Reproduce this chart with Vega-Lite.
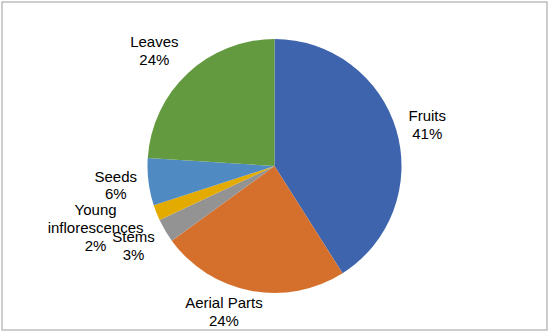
{
  "$schema": "https://vega.github.io/schema/vega-lite/v6.json",
  "width": 550,
  "height": 332,
  "autosize": {"type": "fit", "contains": "padding"},
  "padding": {"left": 2, "top": 2, "right": 3, "bottom": 2},
  "background": "white",
  "view": {"stroke": "#BDBDBD", "strokeWidth": 1.5},
  "data": {
    "values": [
      {"rank": 1, "part": "Fruits", "value": 41},
      {"rank": 2, "part": "Aerial Parts", "value": 24},
      {"rank": 3, "part": "Stems", "value": 3},
      {"rank": 4, "part": "Young inflorescences", "value": 2},
      {"rank": 5, "part": "Seeds", "value": 6},
      {"rank": 6, "part": "Leaves", "value": 24}
    ]
  },
  "transform": [
    {"stack": "value", "groupby": [], "sort": [{"field": "rank", "order": "ascending"}], "as": ["v0", "v1"]},
    {"calculate": "(datum.v0 + datum.v1) / 2", "as": "vmid"},
    {"calculate": "replace(datum.part, 'Young ', 'Young\\n') + '\\n' + datum.value + '%'", "as": "label"}
  ],
  "layer": [
    {
      "mark": {"type": "arc", "outerRadius": 127},
      "encoding": {
        "theta": {"field": "v0", "type": "quantitative", "scale": {"domain": [0, 100]}, "stack": null},
        "theta2": {"field": "v1"},
        "color": {
          "field": "part",
          "type": "nominal",
          "scale": {
            "domain": ["Fruits", "Aerial Parts", "Stems", "Young inflorescences", "Seeds", "Leaves"],
            "range": ["#3D64AC", "#D5702C", "#939393", "#E3AB00", "#4F8AC3", "#63993F"]
          },
          "legend": null
        }
      }
    },
    {
      "transform": [{"filter": "datum.part == 'Fruits'"}],
      "mark": {"type": "text", "radius": 158, "dx": 1, "dy": -6, "font": "Liberation Sans", "fontSize": 15, "lineHeight": 17.7, "lineBreak": "\n", "color": "black"},
      "encoding": {"theta": {"field": "vmid", "type": "quantitative", "scale": {"domain": [0, 100]}, "stack": null}, "text": {"field": "label"}}
    },
    {
      "transform": [{"filter": "datum.part == 'Aerial Parts'"}],
      "mark": {"type": "text", "radius": 158, "dx": -21, "dy": -18, "font": "Liberation Sans", "fontSize": 15, "lineHeight": 17.7, "lineBreak": "\n", "color": "black"},
      "encoding": {"theta": {"field": "vmid", "type": "quantitative", "scale": {"domain": [0, 100]}, "stack": null}, "text": {"field": "label"}}
    },
    {
      "transform": [{"filter": "datum.part == 'Stems'"}],
      "mark": {"type": "text", "radius": 158, "dx": -5, "dy": -9, "font": "Liberation Sans", "fontSize": 15, "lineHeight": 17.7, "lineBreak": "\n", "color": "black"},
      "encoding": {"theta": {"field": "vmid", "type": "quantitative", "scale": {"domain": [0, 100]}, "stack": null}, "text": {"field": "label"}}
    },
    {
      "transform": [{"filter": "datum.part == 'Young inflorescences'"}],
      "mark": {"type": "text", "radius": 158, "dx": -32, "dy": -14, "font": "Liberation Sans", "fontSize": 15, "lineHeight": 17.7, "lineBreak": "\n", "color": "black"},
      "encoding": {"theta": {"field": "vmid", "type": "quantitative", "scale": {"domain": [0, 100]}, "stack": null}, "text": {"field": "label"}}
    },
    {
      "transform": [{"filter": "datum.part == 'Seeds'"}],
      "mark": {"type": "text", "radius": 158, "dx": -2, "dy": -9, "font": "Liberation Sans", "fontSize": 15, "lineHeight": 17.7, "lineBreak": "\n", "color": "black"},
      "encoding": {"theta": {"field": "vmid", "type": "quantitative", "scale": {"domain": [0, 100]}, "stack": null}, "text": {"field": "label"}}
    },
    {
      "transform": [{"filter": "datum.part == 'Leaves'"}],
      "mark": {"type": "text", "radius": 158, "dx": -12, "dy": -9, "font": "Liberation Sans", "fontSize": 15, "lineHeight": 17.7, "lineBreak": "\n", "color": "black"},
      "encoding": {"theta": {"field": "vmid", "type": "quantitative", "scale": {"domain": [0, 100]}, "stack": null}, "text": {"field": "label"}}
    }
  ]
}
